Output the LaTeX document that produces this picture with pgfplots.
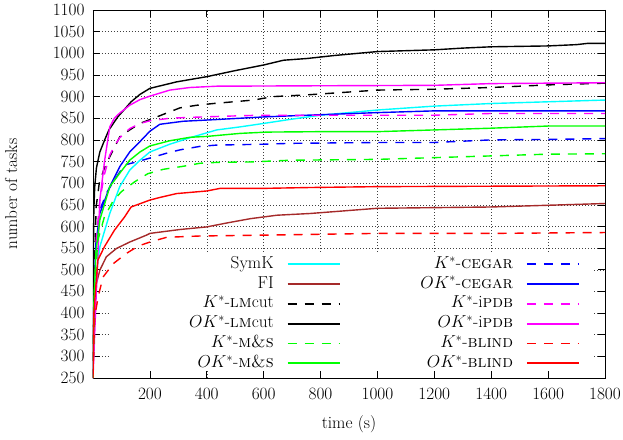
\RequirePackage{fix-cm}
\documentclass[border=0pt]{standalone}
\usepackage{pgfplots}
\pgfplotsset{compat=1.18}
\usetikzlibrary{calc}

\definecolor{symk}{RGB}{0,255,255}
\definecolor{fi}{RGB}{165,42,42}
\definecolor{grn}{RGB}{0,255,0}
\definecolor{blu}{RGB}{0,0,255}
\definecolor{mag}{RGB}{255,0,255}
\definecolor{rd}{RGB}{255,0,0}

\newcommand{\fs}{\fontsize{17.28}{20}\selectfont}

\begin{document}
\begin{tikzpicture}
\begin{axis}[
    scale only axis,
    width=512pt, height=368pt,
    xmin=0, xmax=1800, ymin=250, ymax=1100,
    xtick={200,400,...,1800},
    ytick={250,300,...,1100},
    tick align=inside,
    major tick length=7pt,
    tick style={black, line width=0.6pt},
    axis line style={line width=0.8pt},
    grid=major,
    grid style={black!75, line width=0.5pt, dash pattern=on 1pt off 2pt},
    /pgf/number format/1000 sep={},
    tick label style={font=\fs},
    xticklabel style={yshift=-7pt},
    yticklabel style={xshift=-5pt},
    label style={font=\fs},
    xlabel={time (s)},
    ylabel={number of tasks},
    xlabel style={at={(axis description cs:0.5,-0.125)}, anchor=center},
    ylabel style={at={(axis description cs:-0.16,0.5)}, anchor=center},
    legend columns=2,
    legend plot pos=right,
    legend cell align=right,
    legend image code/.code={\draw[#1, line width=1.7pt] (0pt,0pt) -- (52pt,0pt);},
    legend style={draw=none, fill=none, inner sep=0pt,
        at={(1,0)}, anchor=south east, xshift=-25pt, yshift=7pt,
        font=\fs,
        nodes={font=\fs, inner sep=0pt, text height=11.5pt, text depth=3.5pt},
        row sep=4.8pt,
        /tikz/every odd column/.append style={column sep=13pt},
        /tikz/every even column/.append style={column sep=80pt}},
    every axis plot/.append style={line width=1.4pt},
    dashstyle/.style={dash pattern=on 9pt off 8pt},
]
\fill[white] (rel axis cs:0.033,0.019) rectangle (rel axis cs:0.975,0.342);

% SymK
\addplot[symk] coordinates {
(0,250) (3,400) (10,480) (24,553) (59,630) (94,692) (129,730) (165,753)
(200,772) (270,790) (341,805) (435,823) (517,830) (600,838) (700,848)
(800,857) (1000,869) (1200,878) (1400,884) (1600,888) (1800,892)};
\addlegendentry{SymK}
% K*-CEGAR
\addplot[blu, dashstyle] coordinates {
(0,250) (5,480) (14,580) (28,645) (50,680) (75,707) (111,742) (158,750)
(200,758) (263,770) (306,777) (376,785) (435,788) (600,790) (694,792)
(1000,794) (1200,794) (1400,800) (1600,801) (1800,803)};
\addlegendentry{$K^{*}$-\textsc{cegar}}
% FI
\addplot[fi] coordinates {
(0,250) (2,350) (6,453) (24,499) (47,530) (82,549) (129,564) (188,580)
(200,584) (306,593) (400,599) (470,608) (553,618) (647,626) (764,630)
(1000,642) (1400,645) (1600,649) (1800,653)};
\addlegendentry{FI}
% OK*-CEGAR
\addplot[blu] coordinates {
(0,250) (3,450) (10,560) (24,630) (59,692) (94,738) (129,772) (165,796)
(200,820) (235,836) (317,843) (435,847) (600,853) (753,857) (1000,863)
(1200,867) (1800,867)};
\addlegendentry{$OK^{*}$-\textsc{cegar}}
% K*-LMcut
\addplot[black, dashstyle] coordinates {
(0,250) (5,500) (11,645) (22,700) (40,735) (59,761) (94,807) (129,823)
(165,838) (224,853) (306,874) (365,880) (423,884) (494,888) (564,892)
(635,900) (753,904) (1000,915) (1200,917) (1400,921) (1600,927) (1800,931)};
\addlegendentry{$K^{*}$-\textsc{lm}cut}
% K*-iPDB
\addplot[mag, dashstyle] coordinates {
(0,250) (10,560) (24,660) (40,720) (59,765) (75,785) (94,805) (129,826)
(165,838) (200,844) (270,850) (341,852) (482,855) (588,857) (1200,857)
(1400,861) (1800,861)};
\addlegendentry{$K^{*}$-i\textsc{pdb}}
% OK*-LMcut
\addplot[black] coordinates {
(0,250) (1,520) (3,640) (6,691) (12,735) (24,772) (41,800) (56,823)
(87,853) (110,870) (134,888) (165,905) (200,919) (294,934) (400,946)
(500,960) (600,973) (670,984) (753,988) (850,995) (1000,1004) (1200,1008)
(1300,1012) (1400,1015) (1600,1017) (1700,1020) (1740,1023) (1800,1023)};
\addlegendentry{$OK^{*}$-\textsc{lm}cut}
% OK*-iPDB
\addplot[mag] coordinates {
(0,250) (10,420) (17,530) (24,661) (41,753) (59,830) (75,850) (94,862)
(129,880) (165,893) (200,901) (270,915) (341,921) (435,924) (800,925)
(1200,926) (1400,930) (1800,932)};
\addlegendentry{$OK^{*}$-i\textsc{pdb}}
% K*-M&S
\addplot[grn, dashstyle] coordinates {
(0,250) (5,450) (17,568) (40,622) (69,657) (99,680) (146,703) (193,722)
(247,732) (317,739) (376,746) (435,748) (553,749) (694,753) (1000,755)
(1200,759) (1400,763) (1600,767) (1800,768)};
\addlegendentry{$K^{*}$-\textsc{m\&s}}
% K*-BLIND
\addplot[rd, dashstyle] coordinates {
(0,250) (3,330) (6,391) (18,437) (35,483) (71,514) (118,538) (160,555)
(200,564) (259,575) (376,578) (600,580) (1000,584) (1400,584) (1800,586)};
\addlegendentry{$K^{*}$-\textsc{blind}}
% OK*-M&S
\addplot[grn] coordinates {
(0,250) (3,420) (10,540) (24,615) (59,692) (94,723) (129,753) (165,772)
(200,786) (270,798) (341,806) (400,808) (517,815) (612,818) (800,819)
(1000,819) (1200,823) (1400,827) (1600,832) (1800,832)};
\addlegendentry{$OK^{*}$-\textsc{m\&s}}
% OK*-BLIND
\addplot[rd] coordinates {
(0,250) (3,400) (17,522) (40,553) (75,591) (111,622) (134,645) (200,661)
(235,667) (294,676) (400,682) (447,688) (600,688) (764,690) (1000,692)
(1400,693) (1800,694)};
\addlegendentry{$OK^{*}$-\textsc{blind}}

\coordinate (sw) at (rel axis cs:0,0);
\coordinate (ne) at (rel axis cs:1,1);
\end{axis}
\pgfresetboundingbox
\path ($(sw)+(-93pt,-61pt)$) rectangle ($(ne)+(18pt,10pt)$);
\end{tikzpicture}
\end{document}
